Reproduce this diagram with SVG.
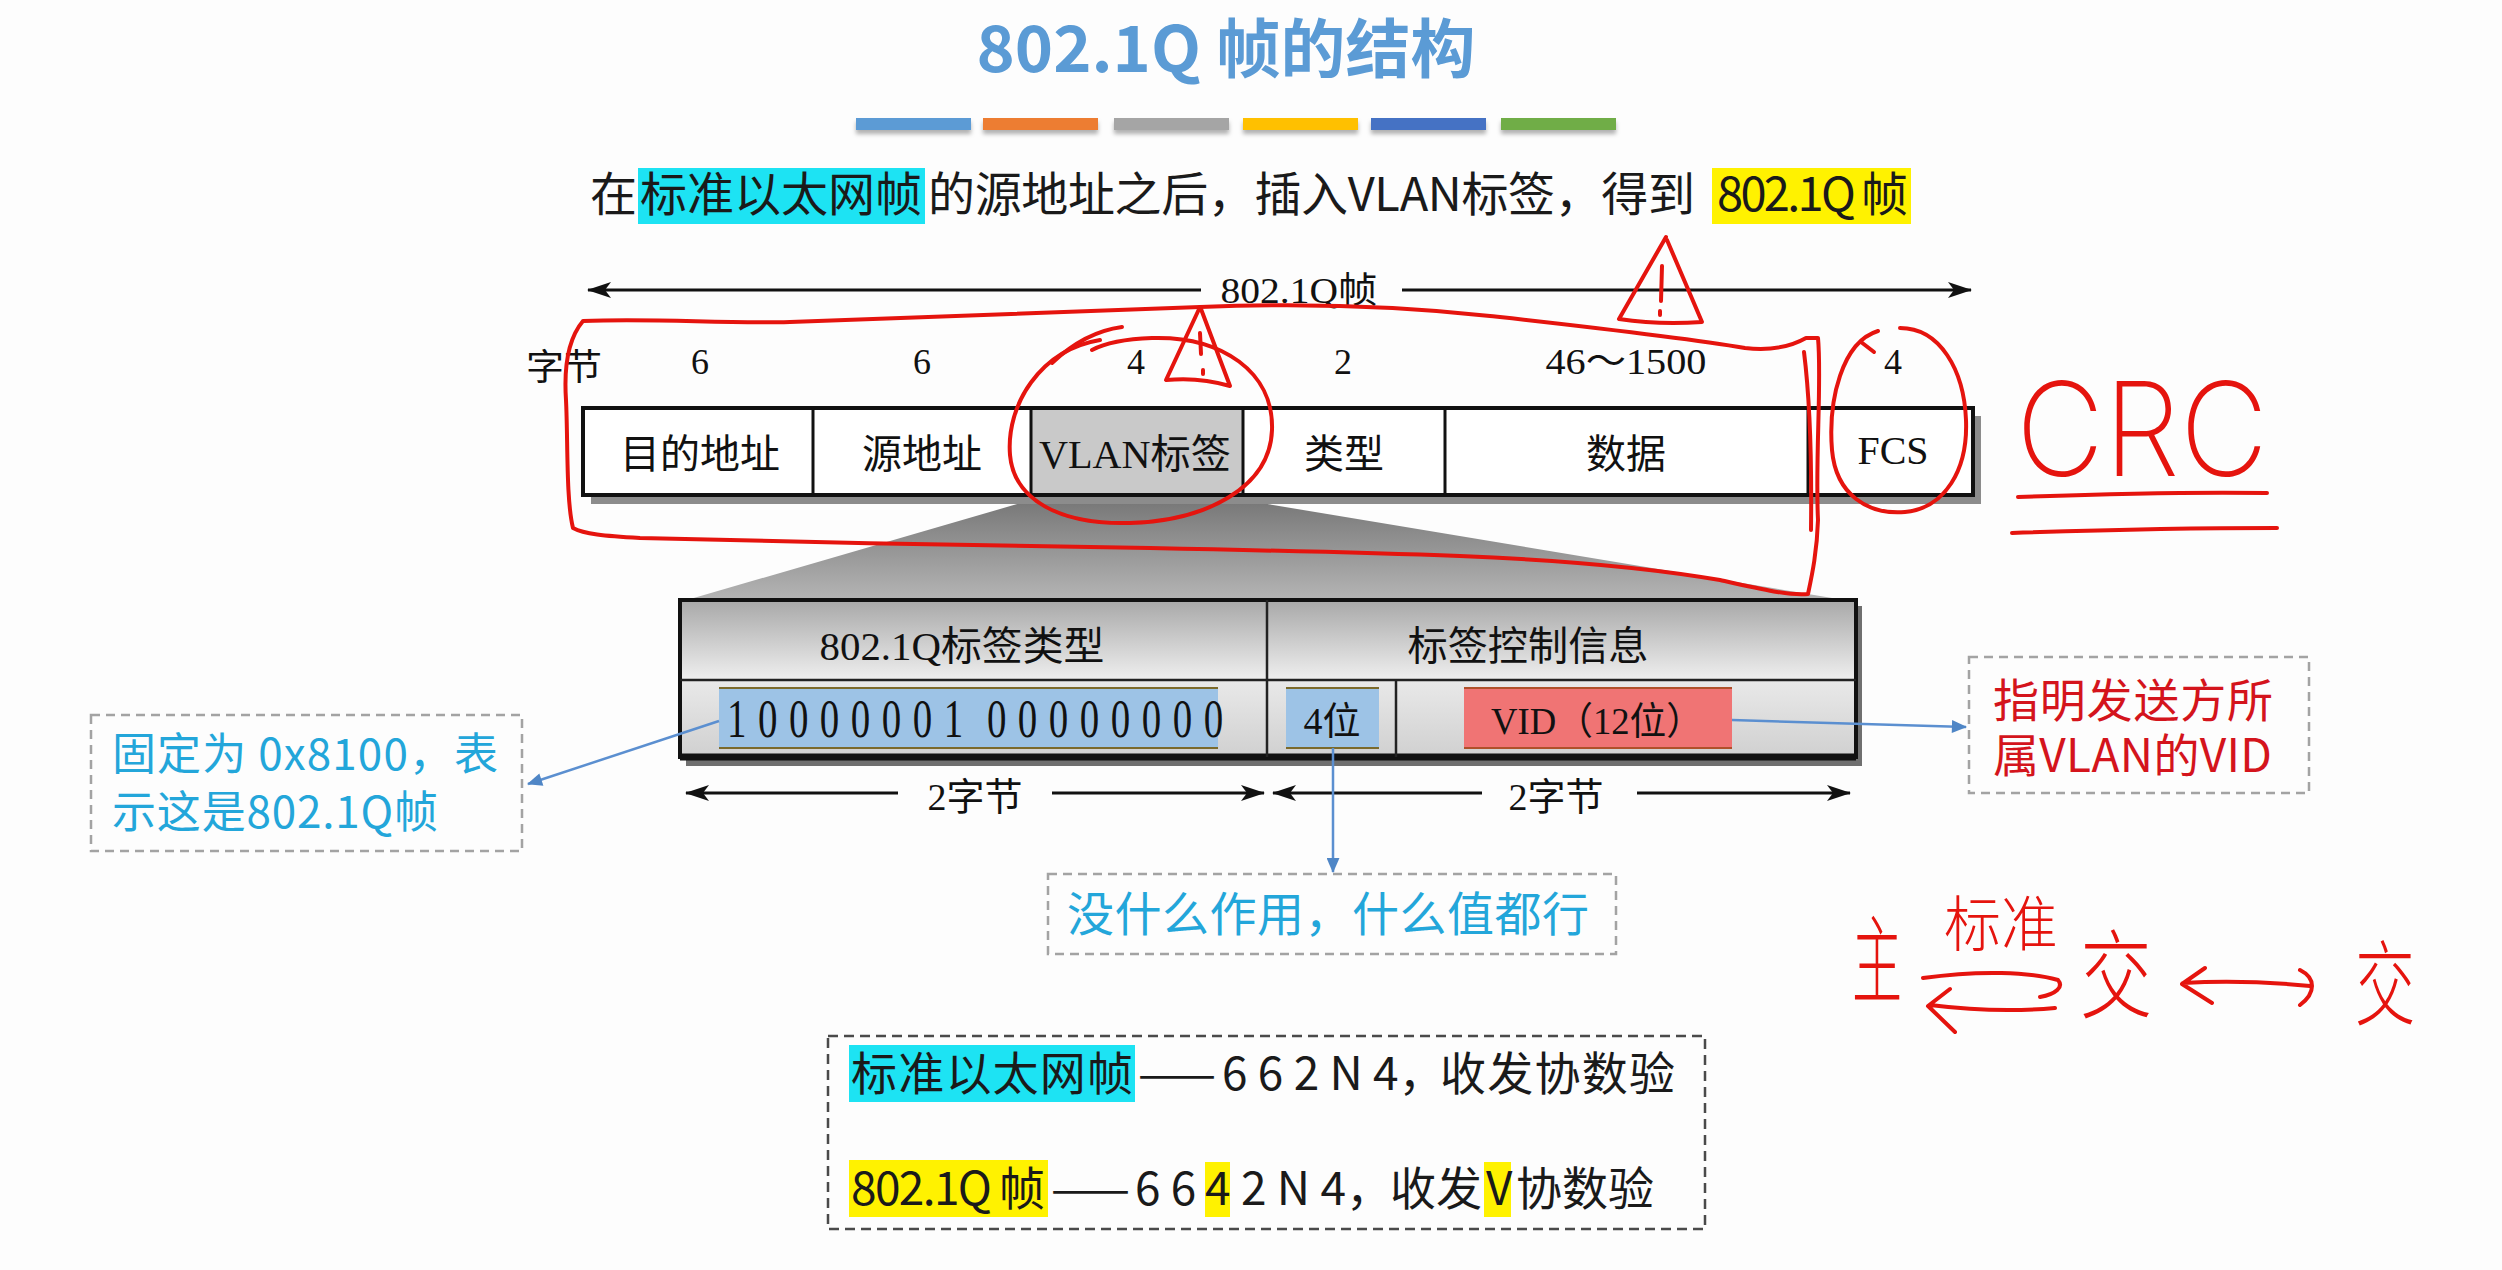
<svg xmlns="http://www.w3.org/2000/svg" width="2502" height="1270" viewBox="0 0 2502 1270">
<defs>
  <style>
    .sans{font-family:"Noto Sans CJK SC","Noto Sans",sans-serif;fill:#1a1a1a}
    .serif{font-family:"Liberation Serif","Noto Sans CJK SC",serif;fill:#111}
    .dash{fill:none;stroke:#a3a3a3;stroke-width:2.5;stroke-dasharray:9 6}
    .dashDark{fill:none;stroke:#4a4a4a;stroke-width:2.5;stroke-dasharray:10 6}
    .conn{fill:none;stroke:#5b8fd0;stroke-width:2.5}
    .dim{stroke:#111;stroke-width:3}
    .cell{fill:#fff;stroke:none}
    .rule{stroke:#111;stroke-width:3}
    .ink{fill:none;stroke:#e5140e;stroke-width:4;stroke-linecap:round;stroke-linejoin:round}
    .hand{font-family:"Noto Sans CJK SC",sans-serif;font-weight:300;fill:#e5140e}
    .cyanTxt{fill:#23a6da}
    .redTxt{fill:#d4141c}
    .hlCyan{fill:#1de3f3}
    .hlYellow{fill:#fff200}
  </style>
  <marker id="dimHead" viewBox="0 0 24 16" refX="23" refY="8" markerWidth="26" markerHeight="16" markerUnits="userSpaceOnUse" orient="auto-start-reverse">
    <path d="M0,0 L24,8 L0,16 L6,8 Z" fill="#111"/>
  </marker>
  <marker id="blueHead" viewBox="0 0 14 12" refX="13" refY="6" markerWidth="16" markerHeight="13" markerUnits="userSpaceOnUse" orient="auto">
    <path d="M0,0 L14,6 L0,12 Z" fill="#4f86c6"/>
  </marker>
  <linearGradient id="wedgeFill" x1="0" y1="0" x2="0" y2="1">
    <stop offset="0" stop-color="#777"/>
    <stop offset="1" stop-color="#b6b6b6"/>
  </linearGradient>
  <linearGradient id="hdrFill" x1="0" y1="0" x2="0" y2="1">
    <stop offset="0" stop-color="#a8a8a8"/>
    <stop offset="1" stop-color="#efefef"/>
  </linearGradient>
  <linearGradient id="rowFill" x1="0" y1="0" x2="0" y2="1">
    <stop offset="0" stop-color="#e9e9e9"/>
    <stop offset="1" stop-color="#d0d0d0"/>
  </linearGradient>
  <filter id="barShadow" x="-5%" y="-50%" width="110%" height="250%">
    <feDropShadow dx="0" dy="4" stdDeviation="2" flood-color="#000" flood-opacity="0.3"/>
  </filter>
</defs>

<rect width="2502" height="1270" fill="#fdfdfd"/>

<!-- title -->
<g id="title">
  <text x="1226" y="72" text-anchor="middle" font-size="64" font-weight="bold" fill="#5b9bd5" style="font-family:'Noto Sans CJK SC','Noto Sans',sans-serif" textLength="499" lengthAdjust="spacingAndGlyphs">802.1Q 帧的结构</text>
</g>

<!-- colour bars under the title -->
<g id="color-bars" filter="url(#barShadow)">
  <rect x="856" y="118" width="115" height="12" fill="#5b9bd5"/>
  <rect x="983" y="118" width="115" height="12" fill="#ed7d31"/>
  <rect x="1114" y="118" width="115" height="12" fill="#a5a5a5"/>
  <rect x="1243" y="118" width="115" height="12" fill="#ffc000"/>
  <rect x="1371" y="118" width="115" height="12" fill="#4472c4"/>
  <rect x="1501" y="118" width="115" height="12" fill="#70ad47"/>
</g>

<!-- subtitle sentence -->
<g id="subtitle">
  <rect class="hlCyan" x="638" y="168" width="287" height="56"/>
  <rect class="hlYellow" x="1712" y="168" width="199" height="56"/>
  <text class="sans" x="590" y="211" font-size="47">在</text>
  <text class="sans" x="640" y="211" font-size="47" textLength="282" lengthAdjust="spacing">标准以太网帧</text>
  <text class="sans" x="928" y="211" font-size="47" textLength="767" lengthAdjust="spacing">的源地址之后，插入VLAN标签，得到</text>
  <text class="sans" x="1717" y="211" font-size="47" textLength="191" lengthAdjust="spacing">802.1Q 帧</text>
</g>

<!-- overall frame length -->
<g id="frame-length">
  <line class="dim" x1="588" y1="290" x2="1201" y2="290" marker-start="url(#dimHead)"/>
  <line class="dim" x1="1402" y1="290" x2="1971" y2="290" marker-end="url(#dimHead)"/>
  <text class="serif" x="1299" y="303" font-size="36" text-anchor="middle" textLength="157" lengthAdjust="spacingAndGlyphs">802.1Q帧</text>
</g>

<!-- byte counts -->
<g id="byte-counts" class="serif" font-size="36" text-anchor="middle">
  <text x="564" y="380" textLength="76" lengthAdjust="spacingAndGlyphs">字节</text>
  <text x="700" y="374">6</text>
  <text x="922" y="374">6</text>
  <text x="1136" y="374">4</text>
  <text x="1343" y="374">2</text>
  <text x="1626" y="374" textLength="161" lengthAdjust="spacingAndGlyphs">46～1500</text>
  <text x="1893" y="374">4</text>
</g>

<!-- expansion wedge from the VLAN tag down to the tag detail -->
<polygon id="expand-wedge" points="1031,500 1243,500 1856,602 680,602" fill="url(#wedgeFill)"/>

<!-- 802.1Q frame fields -->
<g id="frame">
  <rect x="591" y="416" width="1390" height="88" fill="#8c8c8c"/>
  <rect class="cell" x="583" y="408" width="1390" height="87"/>
  <rect x="1031" y="408" width="212" height="87" fill="#c9c9c9"/>
  <rect x="583" y="408" width="1390" height="87" fill="none" stroke="#111" stroke-width="4"/>
  <line class="rule" x1="813" y1="408" x2="813" y2="495"/>
  <line class="rule" x1="1031" y1="408" x2="1031" y2="495"/>
  <line class="rule" x1="1243" y1="408" x2="1243" y2="495"/>
  <line class="rule" x1="1445" y1="408" x2="1445" y2="495"/>
  <line class="rule" x1="1808" y1="408" x2="1808" y2="495"/>
  <g class="serif" font-size="40" text-anchor="middle">
    <text x="700" y="468">目的地址</text>
    <text x="922" y="468">源地址</text>
    <text x="1135" y="468" textLength="192" lengthAdjust="spacingAndGlyphs">VLAN标签</text>
    <text x="1344" y="468">类型</text>
    <text x="1626" y="468">数据</text>
    <text x="1893" y="464" textLength="71" lengthAdjust="spacingAndGlyphs">FCS</text>
  </g>
</g>

<!-- VLAN tag detail -->
<g id="tag-box">
  <rect x="686" y="606" width="1176" height="160" fill="#6f6f6f"/>
  <rect x="680" y="600" width="1176" height="80" fill="url(#hdrFill)"/>
  <rect x="680" y="680" width="1176" height="77" fill="url(#rowFill)"/>
  <rect x="680" y="600" width="1176" height="157" fill="none" stroke="#111" stroke-width="4"/>
  <line x1="680" y1="757" x2="1856" y2="757" stroke="#111" stroke-width="7"/>
  <line x1="680" y1="680" x2="1856" y2="680" stroke="#222" stroke-width="2.5"/>
  <line x1="1267" y1="600" x2="1267" y2="757" stroke="#222" stroke-width="2.5"/>
  <line x1="1396" y1="680" x2="1396" y2="757" stroke="#222" stroke-width="2.5"/>
  <text class="serif" x="962" y="660" font-size="40" text-anchor="middle" textLength="285" lengthAdjust="spacingAndGlyphs">802.1Q标签类型</text>
  <text class="serif" x="1528" y="660" font-size="40" text-anchor="middle" textLength="241" lengthAdjust="spacingAndGlyphs">标签控制信息</text>
</g>

<g id="tpid-field">
  <rect x="719" y="688" width="499" height="60" fill="#9dc3e6"/>
  <line x1="719" y1="688" x2="1218" y2="688" stroke="#7b6a2c" stroke-width="2"/>
  <line x1="719" y1="748" x2="1218" y2="748" stroke="#7b6a2c" stroke-width="2"/>
  <!-- sixteen bits, drawn narrow and evenly spaced -->
  <g transform="translate(727,737) scale(0.72,1)">
    <text class="serif" font-size="54" fill="#1d2c44" x="0 43 86 129 172 215 258 301 361 404 447 490 533 576 619 662" y="0">1000000100000000</text>
  </g>
</g>

<g id="pri-field">
  <rect x="1286" y="688" width="93" height="60" fill="#9dc3e6"/>
  <line x1="1286" y1="688" x2="1379" y2="688" stroke="#7b6a2c" stroke-width="2"/>
  <line x1="1286" y1="748" x2="1379" y2="748" stroke="#7b6a2c" stroke-width="2"/>
  <text class="serif" x="1332" y="734" font-size="38" text-anchor="middle" fill="#1d2c44">4位</text>
</g>

<g id="vid-field">
  <rect x="1464" y="688" width="268" height="60" fill="#f07474"/>
  <line x1="1464" y1="688" x2="1732" y2="688" stroke="#b0502a" stroke-width="2"/>
  <line x1="1464" y1="748" x2="1732" y2="748" stroke="#b0502a" stroke-width="2"/>
  <text class="serif" x="1597" y="734" font-size="38" text-anchor="middle" fill="#3a1414" textLength="212" lengthAdjust="spacingAndGlyphs">VID（12位）</text>
</g>

<!-- two-byte spans -->
<g id="tag-lengths">
  <line class="dim" x1="686" y1="793" x2="898" y2="793" marker-start="url(#dimHead)"/>
  <line class="dim" x1="1052" y1="793" x2="1264" y2="793" marker-end="url(#dimHead)"/>
  <text class="serif" x="975" y="810" font-size="38" text-anchor="middle">2字节</text>
  <line class="dim" x1="1273" y1="793" x2="1482" y2="793" marker-start="url(#dimHead)"/>
  <line class="dim" x1="1637" y1="793" x2="1850" y2="793" marker-end="url(#dimHead)"/>
  <text class="serif" x="1556" y="810" font-size="38" text-anchor="middle">2字节</text>
</g>

<!-- notes -->
<g id="note-tpid">
  <rect class="dash" x="91" y="715" width="431" height="136"/>
  <text class="sans cyanTxt" x="112" y="770" font-size="44" textLength="386" lengthAdjust="spacing">固定为 0x8100，表</text>
  <text class="sans cyanTxt" x="112" y="828" font-size="44" textLength="326" lengthAdjust="spacing">示这是802.1Q帧</text>
</g>

<g id="note-vid">
  <rect class="dash" x="1969" y="657" width="340" height="136"/>
  <text class="sans redTxt" x="1993" y="717" font-size="46" textLength="280" lengthAdjust="spacing">指明发送方所</text>
  <text class="sans redTxt" x="1993" y="772" font-size="46" textLength="279" lengthAdjust="spacing">属VLAN的VID</text>
</g>

<g id="note-pri">
  <rect class="dash" x="1048" y="874" width="568" height="80"/>
  <text class="sans cyanTxt" x="1067" y="931" font-size="47" textLength="522" lengthAdjust="spacing">没什么作用，什么值都行</text>
</g>

<!-- summary -->
<g id="summary">
  <rect class="dashDark" x="828" y="1036" width="877" height="193"/>
  <rect class="hlCyan" x="849" y="1045" width="286" height="57"/>
  <text class="sans" x="851" y="1090" font-size="46" textLength="282" lengthAdjust="spacing">标准以太网帧</text>
  <text class="sans" x="1138" y="1090" font-size="46" textLength="78" lengthAdjust="spacingAndGlyphs">——</text>
  <text class="sans" x="1222" y="1090" font-size="46">6 6 2 N 4，</text>
  <text class="sans" x="1440" y="1090" font-size="46" textLength="235" lengthAdjust="spacing">收发协数验</text>

  <rect class="hlYellow" x="849" y="1160" width="199" height="57"/>
  <rect class="hlYellow" x="1205" y="1162" width="25" height="55"/>
  <rect class="hlYellow" x="1484" y="1162" width="27" height="55"/>
  <text class="sans" x="851" y="1205" font-size="46" textLength="194" lengthAdjust="spacing">802.1Q 帧</text>
  <text class="sans" x="1051" y="1205" font-size="46" textLength="79" lengthAdjust="spacingAndGlyphs">——</text>
  <text class="sans" x="1135" y="1205" font-size="46">6 6</text>
  <text class="sans" x="1205" y="1205" font-size="46">4</text>
  <text class="sans" x="1241" y="1205" font-size="46">2 N 4，</text>
  <text class="sans" x="1390" y="1205" font-size="46">收发</text>
  <text class="sans" x="1486" y="1205" font-size="46">V</text>
  <text class="sans" x="1516" y="1205" font-size="46" textLength="138" lengthAdjust="spacing">协数验</text>
</g>

<!-- connectors -->
<g id="connectors">
  <line class="conn" x1="719" y1="721" x2="528" y2="784" marker-end="url(#blueHead)"/>
  <line class="conn" x1="1732" y1="720" x2="1966" y2="727" marker-end="url(#blueHead)"/>
  <line class="conn" x1="1333" y1="748" x2="1333" y2="872" marker-end="url(#blueHead)"/>
</g>

<!-- pen annotations -->
<g id="pen-notes">
  <path class="ink" d="M583,321 C660,318 720,324 790,322 C900,318 1040,314 1200,307 C1300,303 1400,306 1490,316 C1580,326 1680,337 1745,348 C1772,351 1792,346 1806,338 L1818,338 C1822,380 1815,460 1818,520 C1817,552 1812,575 1808,594 C1790,596 1760,589 1720,580 C1650,568 1560,560 1460,556 C1350,552 1250,550 1150,548 C1000,546 800,542 640,538 C604,536 584,534 573,528 C566,500 568,440 566,400 C564,370 567,340 583,321"/>
  <path class="ink" d="M1804,352 C1810,400 1812,450 1811,530"/>
  <path class="ink" d="M1100,340 C1040,350 1006,405 1010,455 C1014,500 1060,525 1130,523 C1205,521 1270,488 1272,430 C1274,372 1222,336 1152,338 C1125,339 1105,343 1092,350"/>
  <path class="ink" d="M1052,363 C1070,346 1092,331 1122,327"/>
  <path class="ink" d="M1200,307 L1166,380 C1186,378 1210,380 1230,386 L1201,309"/>
  <path class="ink" d="M1200,333 L1201,354 M1203,370 L1203,374"/>
  <path class="ink" d="M1666,237 L1619,319 C1645,323 1675,324 1702,322 L1667,240"/>
  <path class="ink" d="M1662,266 L1661,301 M1660,311 L1660,315"/>
  <path class="ink" d="M1878,331 C1842,342 1828,400 1832,450 C1836,495 1868,515 1905,512 C1945,508 1968,470 1966,420 C1964,370 1940,328 1900,328"/>
  <path class="ink" d="M1861,342 L1874,352"/>
  <text x="2016" y="476" font-size="130" textLength="252" lengthAdjust="spacingAndGlyphs" fill="#e5140e" style="font-family:Inter,'DejaVu Sans',sans-serif;font-weight:200">CRC</text>
  <path class="ink" d="M2018,497 C2100,494 2200,492 2267,493"/>
  <path class="ink" d="M2012,533 C2100,530 2200,528 2277,528"/>

  <text class="hand" x="1852" y="995" font-size="96" textLength="50" lengthAdjust="spacingAndGlyphs">主</text>
  <text class="hand" x="1944" y="946" font-size="60" textLength="114" lengthAdjust="spacingAndGlyphs">标准</text>
  <path class="ink" d="M1923,978 C1980,970 2030,972 2058,980 C2064,987 2056,994 2040,997"/>
  <path class="ink" d="M2055,1008 C2010,1012 1970,1010 1930,1005 M1950,989 L1928,1006 L1955,1032"/>
  <text class="hand" x="2080" y="1010" font-size="96" textLength="72" lengthAdjust="spacingAndGlyphs">交</text>
  <path class="ink" d="M2183,983 C2230,980 2270,982 2310,986 M2205,968 L2182,984 L2212,1003 M2300,970 C2316,978 2316,993 2300,1005"/>
  <text class="hand" x="2355" y="1018" font-size="92" textLength="60" lengthAdjust="spacingAndGlyphs">交</text>
</g>
</svg>
